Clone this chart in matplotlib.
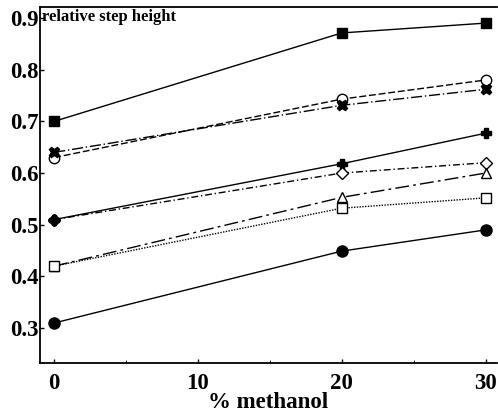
import matplotlib.pyplot as plt

# % methanol
methanol = [0, 20, 30]

# relative step height per series
sq_filled = [0.70, 0.871, 0.890]
circ_open = [0.63, 0.743, 0.780]
x_mark = [0.64, 0.731, 0.762]
plus = [0.51, 0.618, 0.677]
diamond = [0.51, 0.600, 0.620]
triangle = [0.42, 0.553, 0.600]
sq_open = [0.42, 0.532, 0.552]
circ_filled = [0.31, 0.449, 0.490]

yticks = [0.3, 0.4, 0.5, 0.6, 0.7, 0.8, 0.9]
xticks = [0, 10, 20, 30]

plt.rcParams["font.family"] = ["Liberation Serif", "DejaVu Serif"]
plt.rcParams["font.weight"] = "bold"

fig = plt.figure(figsize=(4.98, 4.17), dpi=100)
ax = fig.add_axes([0.080, 0.130, 0.918, 0.853])

lw = 1.0
ax.plot(methanol, sq_filled, "k-", marker="s", ms=7.5, lw=lw)
ax.plot(methanol, circ_open, "k", ls=(0, (5, 2)), marker="o", ms=7.5, mfc="white", lw=lw)
ax.plot(methanol, x_mark, "k", ls=(0, (8, 2, 1, 2)), marker="X", ms=7.5, lw=lw)
ax.plot(methanol, plus, "k-", marker="P", ms=7.5, lw=lw)
ax.plot(methanol, diamond, "k", ls=(0, (5, 2, 1, 2)), marker="D", ms=6.5, mfc="white", lw=lw)
ax.plot(methanol, triangle, "k", ls=(0, (10, 3, 2, 3)), marker="^", ms=7.5, mfc="white", lw=lw)
ax.plot(methanol, sq_open, "k", ls=(0, (1, 1)), marker="s", ms=7.5, mfc="white", lw=lw)
ax.plot(methanol, circ_filled, "k-", marker="o", ms=8, lw=lw)
# filled diamond at 0 (plus series start)
ax.plot(methanol[:1], plus[:1], "kD", ms=6.5)

ax.set_xlim(-1.0, 30.8)
ax.set_ylim(0.233, 0.921)
ax.set_xticks(xticks)
ax.set_xticks([5, 15, 25], minor=True)
ax.set_yticks(yticks)
ax.set_yticklabels([f"{v:.1f}" for v in yticks])
ax.tick_params(direction="in", labelsize=16.5, length=3, width=1, pad=1)
ax.tick_params(axis="x", pad=7)
ax.tick_params(which="minor", direction="in", length=2)
ax.spines["right"].set_visible(False)
for s in ["left", "bottom", "top"]:
    ax.spines[s].set_linewidth(1.3)

ax.set_xlabel("% methanol", fontsize=16.5, fontweight="bold", labelpad=-1)
ax.text(0.005, 0.995, "relative step height", transform=ax.transAxes,
        fontsize=12, fontweight="bold", ha="left", va="top")

fig.savefig("out.png", dpi=100)
